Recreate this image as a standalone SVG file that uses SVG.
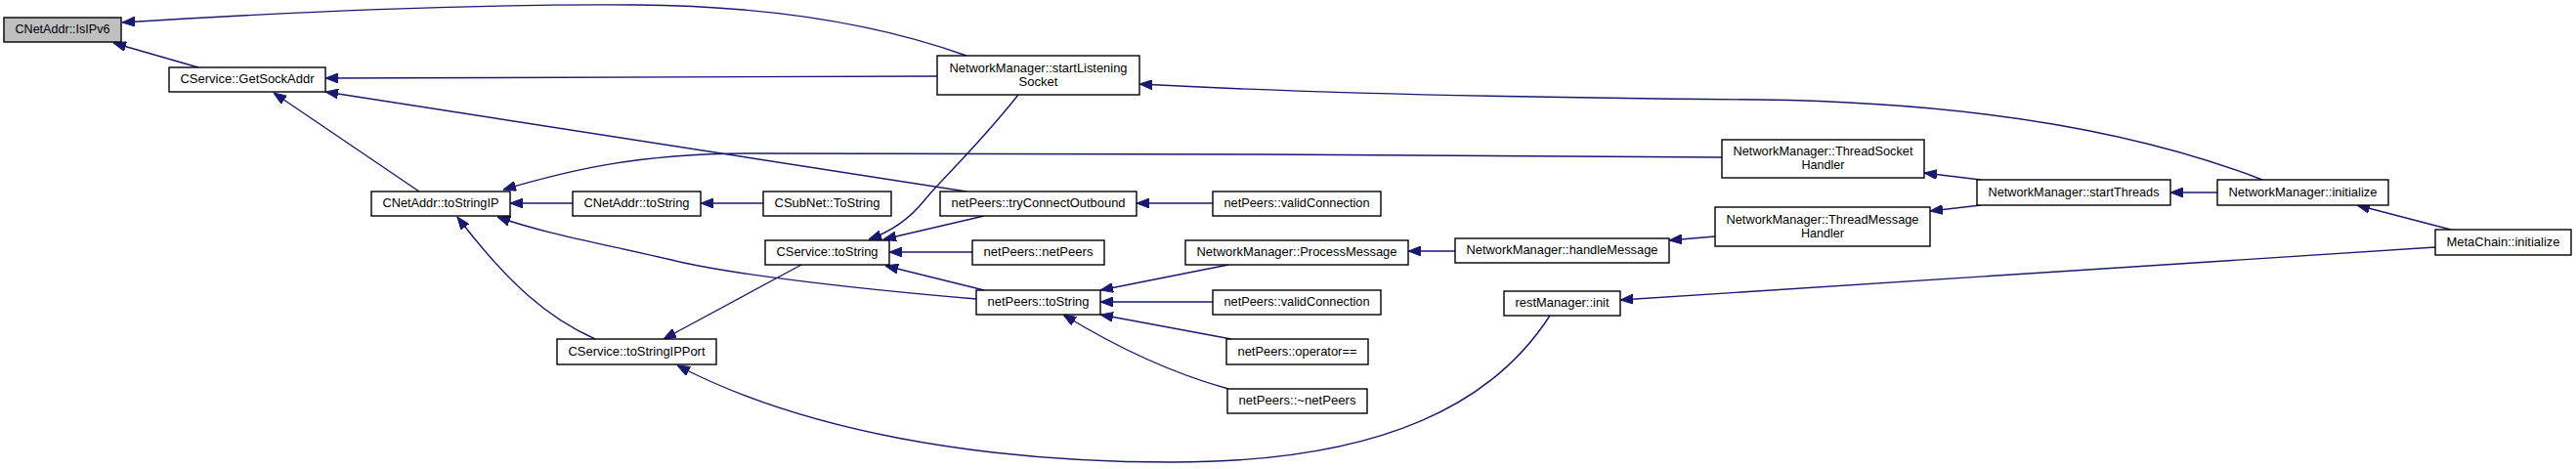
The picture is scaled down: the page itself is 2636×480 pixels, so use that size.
<svg xmlns="http://www.w3.org/2000/svg" width="2636" height="480" viewBox="0 0 2636 480">
<style>
.n rect{fill:#fff;stroke:#000;stroke-width:1.4}
.n.g rect{fill:#bfbfbf}
.n text{font-family:"Liberation Sans",Arial,sans-serif;font-size:13.5px;fill:#000;text-anchor:middle}
.e path{fill:none;stroke:#191970;stroke-width:1.4;marker-end:url(#ah)}
</style>
<defs>
<marker id="ah" viewBox="0 0 13 10" refX="13" refY="5" markerWidth="13" markerHeight="10" orient="auto" markerUnits="userSpaceOnUse"><path d="M0,0 L13,5 L0,10 z" fill="#191970" stroke="#191970" stroke-width="1"/></marker>
</defs>
<rect width="2636" height="480" fill="#fff"/>
<g class="e" id="edges">
<path d="M989,57 C900,25 790,6 650,5 C480,4 300,12 125,23"/>
<path d="M203,69 L116,44"/>
<path d="M959,78 L333,80"/>
<path d="M989,196 L333,94"/>
<path d="M429,196 L280,95"/>
<path d="M1762,161 C1500,158 1000,157 770,157 C650,157 580,175 515,194"/>
<path d="M586,208 L522,208"/>
<path d="M781,208 L717,208"/>
<path d="M999,306 C880,296 760,282 700,269 C620,250 560,240 509,222"/>
<path d="M609,347 C560,325 520,290 468,222"/>
<path d="M1042,97 C1000,150 962,185 946,205 C930,225 912,237 889,245"/>
<path d="M1007,221 L904,245"/>
<path d="M995,258 L910,258"/>
<path d="M1007,297 L906,272"/>
<path d="M820,271 L679,347"/>
<path d="M1586,323 C1530,410 1420,473 1200,473 C1000,473 820,440 693,374"/>
<path d="M1257,271 L1126,297"/>
<path d="M1241,309 L1126,309"/>
<path d="M1260,347 L1126,322"/>
<path d="M1257,398 C1210,385 1150,360 1088,322"/>
<path d="M1241,208 L1163,208"/>
<path d="M1489,257 L1441,257"/>
<path d="M1755,242 L1708,246"/>
<path d="M2027,184 L1969,177"/>
<path d="M2027,210 L1975,216"/>
<path d="M2269,197 L2221,197"/>
<path d="M2315,184 C2150,120 1950,104 1800,102 C1550,100 1350,96 1166,86"/>
<path d="M2508,235 L2412,210"/>
<path d="M2492,253 L1658,307"/>
</g>
<g class="n g" id="n_isipv6"><rect x="4" y="18" width="120" height="25"/><text x="64" y="34" textLength="97" lengthAdjust="spacingAndGlyphs">CNetAddr::IsIPv6</text></g>
<g class="n" id="n_getsockaddr"><rect x="173" y="69" width="160" height="25"/><text x="253" y="85" textLength="137" lengthAdjust="spacingAndGlyphs">CService::GetSockAddr</text></g>
<g class="n" id="n_tostringip"><rect x="380" y="196" width="142" height="25"/><text x="451" y="212" textLength="119" lengthAdjust="spacingAndGlyphs">CNetAddr::toStringIP</text></g>
<g class="n" id="n_cnetaddr_tostring"><rect x="586" y="196" width="131" height="25"/><text x="651.5" y="212" textLength="108" lengthAdjust="spacingAndGlyphs">CNetAddr::toString</text></g>
<g class="n" id="n_tostringipport"><rect x="570" y="347" width="163" height="26"/><text x="651.5" y="364" textLength="140" lengthAdjust="spacingAndGlyphs">CService::toStringIPPort</text></g>
<g class="n" id="n_startlistening"><rect x="959" y="57" width="207" height="40"/><text x="1062.5" y="74" textLength="182" lengthAdjust="spacingAndGlyphs">NetworkManager::startListening</text><text x="1062.5" y="88" textLength="40" lengthAdjust="spacingAndGlyphs">Socket</text></g>
<g class="n" id="n_csubnet_tostring"><rect x="781" y="196" width="131" height="25"/><text x="846.5" y="212" textLength="108" lengthAdjust="spacingAndGlyphs">CSubNet::ToString</text></g>
<g class="n" id="n_tryconnect"><rect x="962" y="196" width="201" height="25"/><text x="1062.5" y="212" textLength="178" lengthAdjust="spacingAndGlyphs">netPeers::tryConnectOutbound</text></g>
<g class="n" id="n_validconn1"><rect x="1241" y="196" width="172" height="25"/><text x="1327" y="212" textLength="149" lengthAdjust="spacingAndGlyphs">netPeers::validConnection</text></g>
<g class="n" id="n_cservice_tostring"><rect x="783" y="246" width="127" height="25"/><text x="846.5" y="262" textLength="104" lengthAdjust="spacingAndGlyphs">CService::toString</text></g>
<g class="n" id="n_netpeers_ctor"><rect x="995" y="246" width="135" height="25"/><text x="1062.5" y="262" textLength="112" lengthAdjust="spacingAndGlyphs">netPeers::netPeers</text></g>
<g class="n" id="n_processmessage"><rect x="1213" y="246" width="228" height="25"/><text x="1327" y="262" textLength="205" lengthAdjust="spacingAndGlyphs">NetworkManager::ProcessMessage</text></g>
<g class="n" id="n_netpeers_tostring"><rect x="999" y="297" width="127" height="25"/><text x="1062.5" y="313" textLength="104" lengthAdjust="spacingAndGlyphs">netPeers::toString</text></g>
<g class="n" id="n_validconn2"><rect x="1241" y="297" width="172" height="25"/><text x="1327" y="313" textLength="149" lengthAdjust="spacingAndGlyphs">netPeers::validConnection</text></g>
<g class="n" id="n_operatoreq"><rect x="1255" y="347" width="145" height="26"/><text x="1327.5" y="364" textLength="122" lengthAdjust="spacingAndGlyphs">netPeers::operator==</text></g>
<g class="n" id="n_netpeers_dtor"><rect x="1256" y="398" width="143" height="25"/><text x="1327.5" y="414" textLength="120" lengthAdjust="spacingAndGlyphs">netPeers::~netPeers</text></g>
<g class="n" id="n_handlemessage"><rect x="1489" y="244" width="219" height="25"/><text x="1598.5" y="260" textLength="196" lengthAdjust="spacingAndGlyphs">NetworkManager::handleMessage</text></g>
<g class="n" id="n_restinit"><rect x="1539" y="298" width="119" height="25"/><text x="1598.5" y="314" textLength="96" lengthAdjust="spacingAndGlyphs">restManager::init</text></g>
<g class="n" id="n_threadsocket"><rect x="1762" y="143" width="207" height="39"/><text x="1865.5" y="159" textLength="184" lengthAdjust="spacingAndGlyphs">NetworkManager::ThreadSocket</text><text x="1865.5" y="173" textLength="44" lengthAdjust="spacingAndGlyphs">Handler</text></g>
<g class="n" id="n_threadmessage"><rect x="1755" y="212" width="220" height="40"/><text x="1865" y="229" textLength="197" lengthAdjust="spacingAndGlyphs">NetworkManager::ThreadMessage</text><text x="1865" y="243" textLength="44" lengthAdjust="spacingAndGlyphs">Handler</text></g>
<g class="n" id="n_startthreads"><rect x="2023" y="184" width="198" height="26"/><text x="2122" y="201" textLength="175" lengthAdjust="spacingAndGlyphs">NetworkManager::startThreads</text></g>
<g class="n" id="n_nm_initialize"><rect x="2269" y="184" width="175" height="26"/><text x="2356.5" y="201" textLength="152" lengthAdjust="spacingAndGlyphs">NetworkManager::initialize</text></g>
<g class="n" id="n_mc_initialize"><rect x="2492" y="235" width="139" height="26"/><text x="2561.5" y="252" textLength="116" lengthAdjust="spacingAndGlyphs">MetaChain::initialize</text></g>
</svg>
